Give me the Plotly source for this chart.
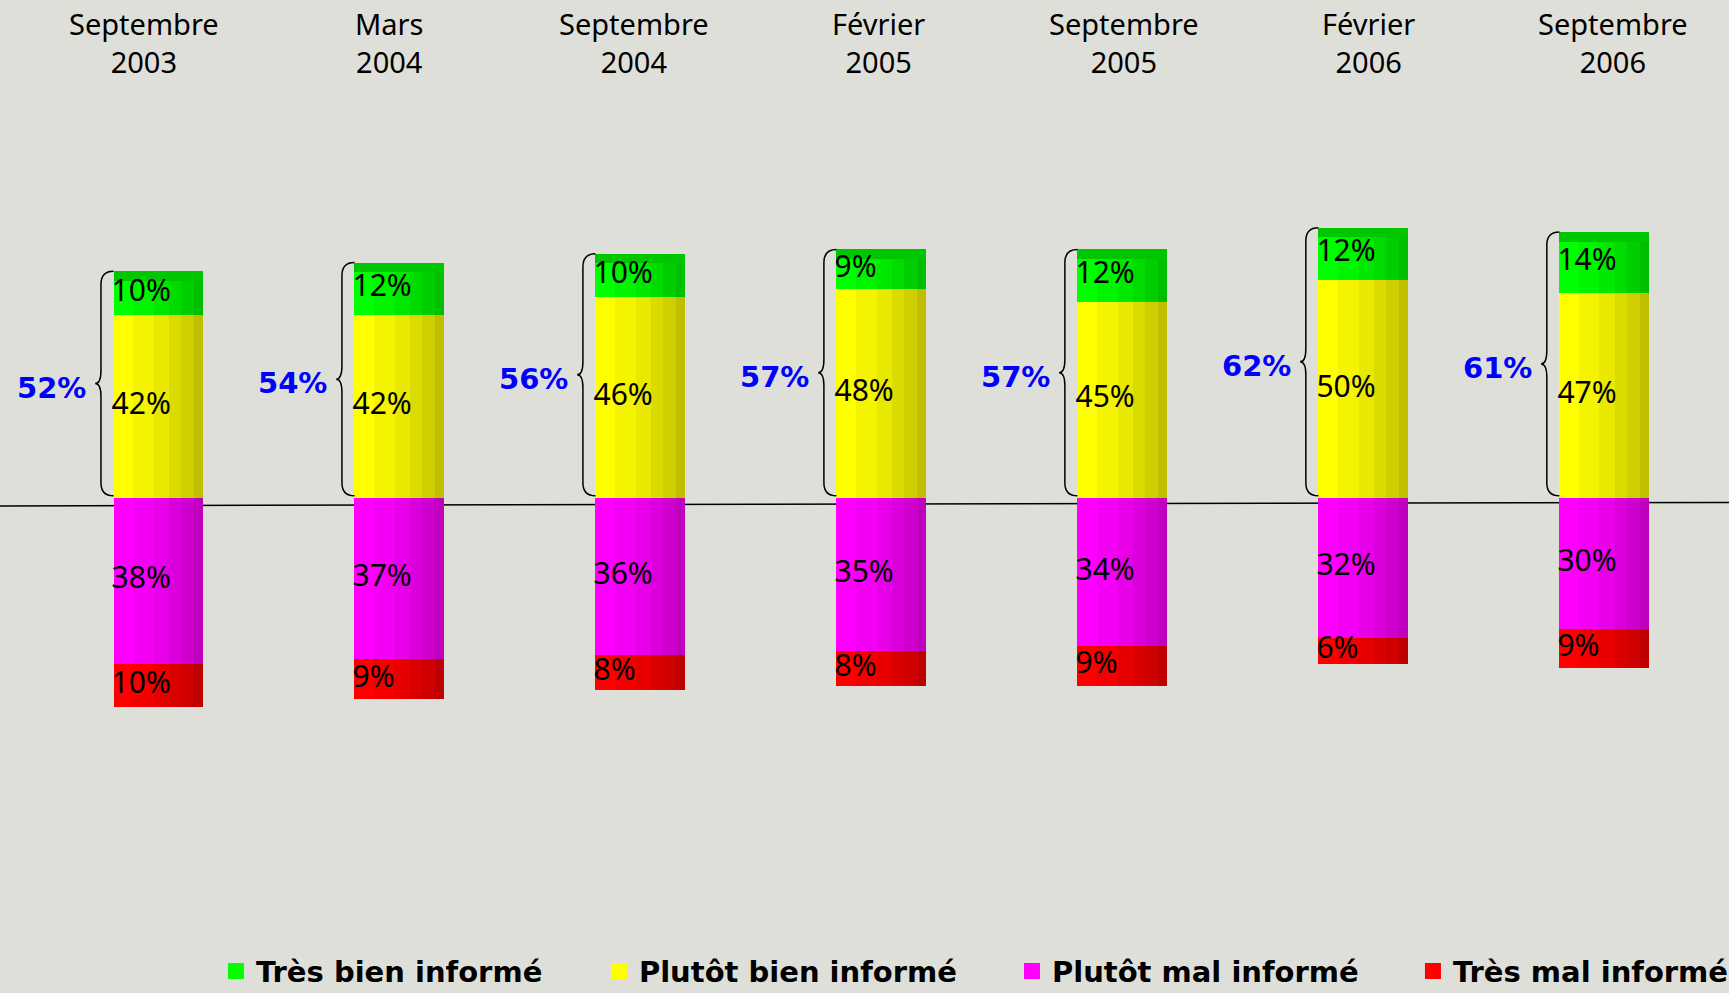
import plotly.graph_objects as go

categories = ["Septembre<br>2003", "Mars<br>2004", "Septembre<br>2004", "Février<br>2005",
              "Septembre<br>2005", "Février<br>2006", "Septembre<br>2006"]
tres_bien = [10, 12, 10, 9, 12, 12, 14]
plutot_bien = [42, 42, 46, 48, 45, 50, 47]
plutot_mal = [38, 37, 36, 35, 34, 32, 30]
tres_mal = [10, 9, 8, 8, 9, 6, 9]
series_names = ["Très bien informé", "Plutôt bien informé", "Plutôt mal informé", "Très mal informé"]
series_colors = ["#00FF00", "#FFFF00", "#FF00FF", "#FF0000"]

BG = "#DFDFD9"
W = 0.37  # bar width in category units
xs = list(range(len(categories)))

# cylinder look: vertical strips, darker towards the right
strips = [(0.0, 0.22, 1.0), (0.22, 0.45, 0.96), (0.45, 0.62, 0.91),
          (0.62, 0.76, 0.86), (0.76, 0.9, 0.81), (0.9, 1.0, 0.75)]


def shade(hex_color, f):
    r, g, b = (int(hex_color[i:i + 2], 16) for i in (1, 3, 5))
    return "rgb(%d,%d,%d)" % (r * f, g * f, b * f)


pos_total = [a + b for a, b in zip(tres_bien, plutot_bien)]
seg = [
    dict(vals=tres_bien, base=plutot_bien, length=tres_bien),
    dict(vals=plutot_bien, base=[0] * 7, length=plutot_bien),
    dict(vals=plutot_mal, base=[0] * 7, length=[-v for v in plutot_mal]),
    dict(vals=tres_mal, base=[-v for v in plutot_mal], length=[-v for v in tres_mal]),
]

fig = go.Figure()

for s, color in zip(seg, series_colors):
    for a, b, f in strips:
        fig.add_trace(go.Bar(
            x=xs, y=s["length"], base=s["base"],
            width=W * (b - a), offset=W * (a - 0.5),
            marker=dict(color=shade(color, f), line=dict(width=0)),
            showlegend=False, hoverinfo="skip",
        ))

# darker top cap on the green segment
fig.add_trace(go.Bar(
    x=xs, y=[2.2] * 7, base=[t - 2.2 for t in pos_total],
    width=W, offset=-W / 2,
    marker=dict(color=shade("#00FF00", 0.78), line=dict(width=0)),
    showlegend=False, hoverinfo="skip",
))

# segment labels
for s in seg:
    mids = [b + l / 2 for b, l in zip(s["base"], s["length"])]
    fig.add_trace(go.Scatter(
        x=[x - W / 2 - 0.008 for x in xs], y=mids, mode="text",
        text=["%d%%" % v for v in s["vals"]], textposition="middle right",
        textfont=dict(family="Noto Sans", size=30, color="black"),
        showlegend=False, hoverinfo="skip",
    ))

# category labels sit on their own (slightly wider) grid
fig.add_trace(go.Scatter(
    x=xs, y=[0] * 7, xaxis="x2", mode="markers", marker=dict(opacity=0),
    showlegend=False, hoverinfo="skip",
))

# legend entries, one small legend each so they can be spaced like the original
legend_ids = ["legend", "legend2", "legend3", "legend4"]
for name, color, lid in zip(series_names, series_colors, legend_ids):
    fig.add_trace(go.Scatter(
        x=[None], y=[None], mode="markers", name=name, legend=lid,
        marker=dict(symbol="square", size=18, color=color),
    ))

# braces and totals
shapes = []
annotations = []
for x, t in zip(xs, pos_total):
    xe = x - W / 2
    xs_ = xe - 0.052
    xt = xe - 0.076
    top, bot, mid = t, 0.5, (t + 0.5) / 2
    r = 3.0
    path = (f"M{xe},{top} Q{xs_},{top} {xs_},{top - r} L{xs_},{mid + r} "
            f"Q{xs_},{mid} {xt},{mid} Q{xs_},{mid} {xs_},{mid - r} "
            f"L{xs_},{bot + r} Q{xs_},{bot} {xe},{bot}")
    shapes.append(dict(type="path", path=path, xref="x", yref="y",
                       line=dict(color="black", width=1.5)))
    annotations.append(dict(x=xt - 0.03, y=mid, xref="x", yref="y", text="%d%%" % t,
                            showarrow=False, xanchor="right", yanchor="middle", yshift=-4,
                            font=dict(family="DejaVu Sans", size=29, color="#0000FF",
                                      weight="bold")))

for x, c in zip(xs, categories):
    annotations.append(dict(x=x, y=1, xref="x2", yref="paper", text=c, showarrow=False,
                            xanchor="center", yanchor="top", yshift=-2,
                            font=dict(family="Noto Sans", size=29, color="black")))

# zero line, slightly tilted as in the original
shapes.append(dict(type="line", xref="paper", yref="y", x0=0, x1=1, y0=-1.8, y1=-1.0,
                   line=dict(color="black", width=1.5), layer="below"))

legend_style = dict(orientation="h", xanchor="left", y=0.022, yanchor="middle",
                    bgcolor="rgba(0,0,0,0)", borderwidth=0,
                    font=dict(family="DejaVu Sans", size=29, color="black", weight="bold"))
legend_x = [0.1249, 0.3464, 0.5853, 0.8172]

fig.update_layout(
    width=1729, height=993,
    margin=dict(l=0, r=0, t=0, b=0, autoexpand=False),
    paper_bgcolor=BG, plot_bgcolor=BG,
    barmode="overlay", bargap=0,
    xaxis=dict(range=[-0.656, 6.519], visible=False, fixedrange=True),
    xaxis2=dict(range=[-0.590, 6.473], visible=False, fixedrange=True,
                overlaying="x", side="top"),
    yaxis=dict(range=[-113.5, 114.2], visible=False, fixedrange=True),
    shapes=shapes, annotations=annotations,
    showlegend=True,
    **{lid: dict(legend_style, x=lx) for lid, lx in zip(legend_ids, legend_x)},
)

fig.write_html("out.html", config={"displayModeBar": False},
               post_script="document.body.style.margin='0';document.body.style.overflow='hidden';")
